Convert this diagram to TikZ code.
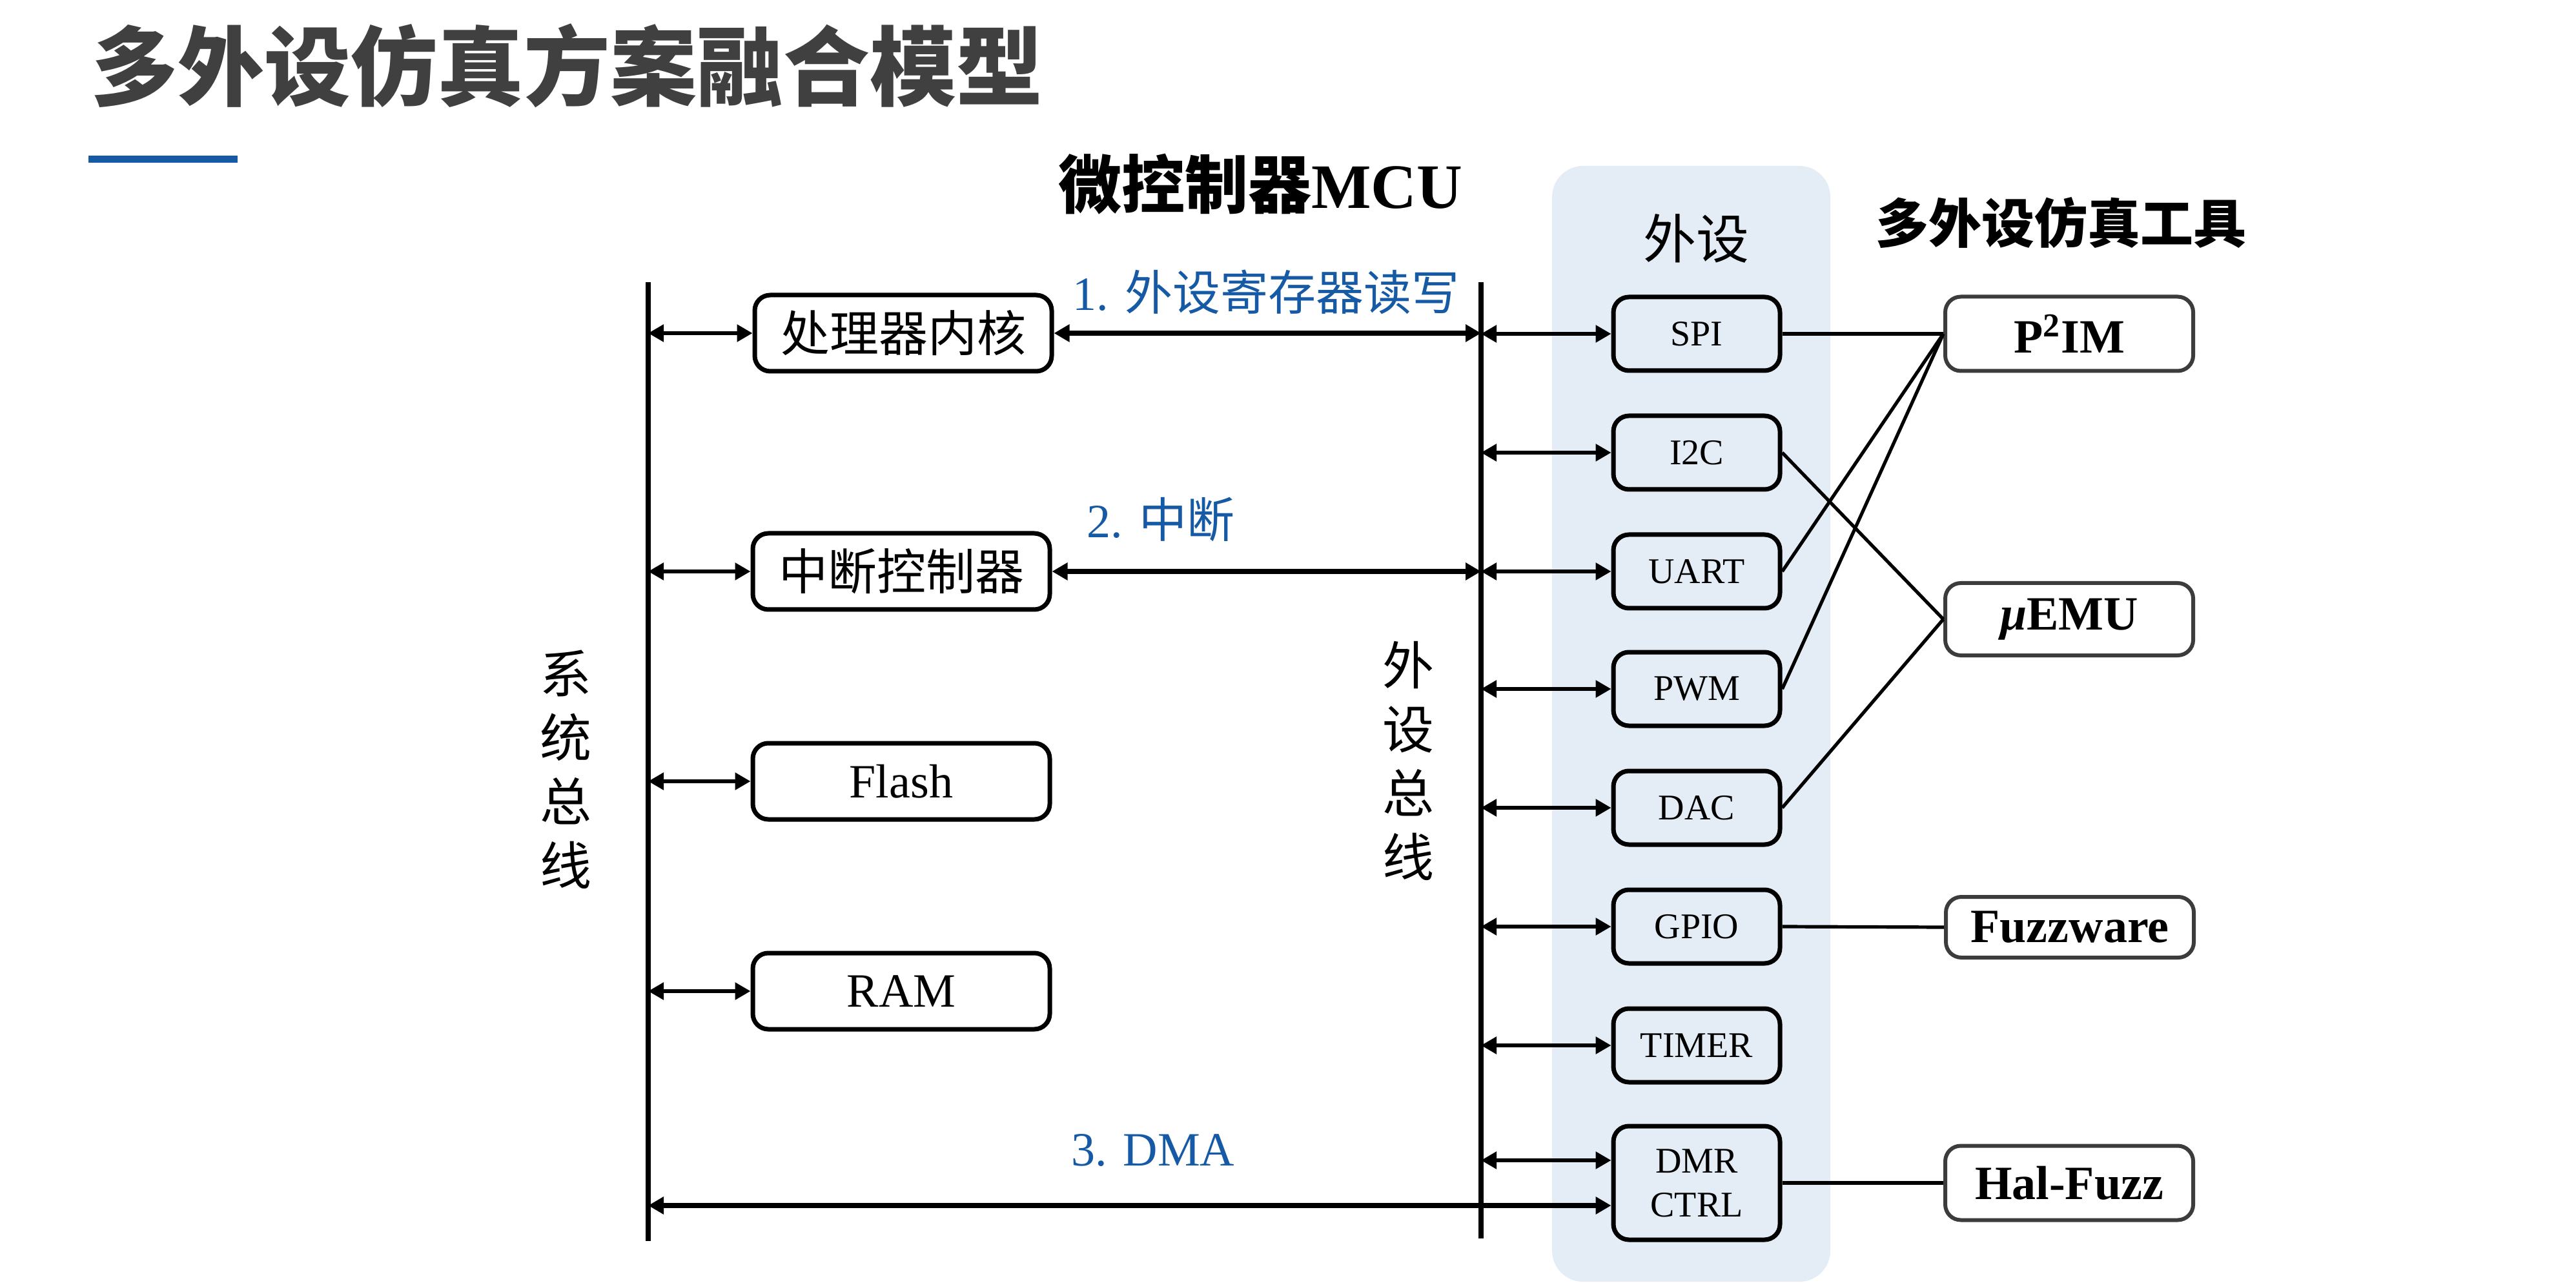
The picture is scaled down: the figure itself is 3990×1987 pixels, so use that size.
\documentclass[tikz,border=0pt]{standalone}
\usepackage{fontspec}
\setmainfont{Liberation Serif}
\newfontfamily\cjk{Noto Sans CJK SC}
\usetikzlibrary{arrows.meta}
\definecolor{accent}{RGB}{22,90,166}
\definecolor{titlegray}{RGB}{64,64,64}
\definecolor{panelbg}{RGB}{228,236,245}
\definecolor{toolborder}{RGB}{60,60,60}
\tikzset{
  lbox/.style={draw=black, line width=1.75pt, rounded corners=6pt, minimum width=115pt, minimum height=29.5pt, inner sep=0pt, font=\cjk\fontsize{19pt}{22pt}\selectfont},
  lboxlat/.style={lbox, font=\rmfamily\fontsize{18.5pt}{22pt}\selectfont},
  pbox/.style={draw=black, line width=1.75pt, rounded corners=6pt, minimum width=64.5pt, minimum height=28.5pt, inner sep=0pt, align=center, font=\rmfamily\fontsize{14pt}{17pt}\selectfont},
  tbox/.style={draw=toolborder, fill=white, line width=1.5pt, rounded corners=6pt, minimum width=96pt, minimum height=28.75pt, inner sep=0pt, font=\rmfamily\bfseries\fontsize{18.5pt}{22pt}\selectfont},
  arr/.style={line width=1.4pt, {Triangle[length=6pt,width=6.5pt]}-{Triangle[length=6pt,width=6.5pt]}},
  thickarr/.style={line width=2pt, {Triangle[length=6pt,width=6.5pt]}-{Triangle[length=6pt,width=6.5pt]}},
  bus/.style={line width=2.2pt},
  link/.style={line width=1.3pt},
  steplabel/.style={text=accent, inner sep=0pt, font=\rmfamily\fontsize{18.5pt}{22pt}\selectfont}
}
\begin{document}
\begin{tikzpicture}[x=0.25pt,y=-0.25pt]
\useasboundingbox (0,0) rectangle (3990,1987);
% title
\node[anchor=west, inner sep=0pt, text=titlegray, font=\cjk\bfseries\fontsize{33.5pt}{38pt}\selectfont] (title) at (141,102) {多外设仿真方案融合模型};
\fill[accent] (137,241) rectangle (368,252);
% panel
\fill[panelbg, rounded corners=12pt] (2404,257) rectangle (2835,1985);
% headings
\node[inner sep=0pt, font=\rmfamily\bfseries\fontsize{24.5pt}{28pt}\selectfont] (mcu) at (1952,285) {{\cjk 微控制器}MCU};
\node[inner sep=0pt, font=\cjk\bfseries\fontsize{20.5pt}{24pt}\selectfont] (toolshead) at (3192,345) {多外设仿真工具};
\node[inner sep=0pt, font=\cjk\fontsize{20.5pt}{24pt}\selectfont] (periphhead) at (2627,369) {外设};
% buses
\coordinate (sbtop) at (1004,437);
\coordinate (sbbot) at (1004,1922);
\coordinate (pbtop) at (2294,437);
\coordinate (pbbot) at (2294,1918);
\draw[bus] (sbtop) -- (sbbot);
\draw[bus] (pbtop) -- (pbbot);
\node[align=center, inner sep=0pt, font=\cjk\fontsize{20pt}{24.75pt}\selectfont] (sbl) at (876,1192) {系\\统\\总\\线};
\node[align=center, inner sep=0pt, font=\cjk\fontsize{20pt}{24.75pt}\selectfont] (pbl) at (2181,1178) {外\\设\\总\\线};
% MCU blocks
\node[lbox] (core) at (1399,516) {处理器内核};
\node[lbox] (irq) at (1396,885) {中断控制器};
\node[lboxlat] (flash) at (1396,1210) {Flash};
\node[lboxlat] (ram) at (1396,1535) {RAM};
% peripherals
\node[pbox] (spi) at (2628,517) {SPI};
\node[pbox] (i2c) at (2628,701) {I2C};
\node[pbox] (uart) at (2628,885) {UART};
\node[pbox] (pwm) at (2628,1067) {PWM};
\node[pbox] (dac) at (2628,1251) {DAC};
\node[pbox] (gpio) at (2628,1435) {GPIO};
\node[pbox] (timer) at (2628,1619) {TIMER};
\node[pbox, minimum height=44pt] (dmr) at (2628,1832) {DMR\\CTRL};
% tools
\node[tbox] (p2im) at (3205,517) {P\textsuperscript{2}IM};
\node[tbox, minimum height=28pt] (uemu) at (3205,959) {{\itshape μ}EMU};
\node[tbox, minimum height=23.5pt] (fuzz) at (3206,1436) {Fuzzware};
\node[tbox] (hal) at (3205,1832) {Hal-Fuzz};
% system bus arrows
\foreach \b in {core,irq,flash,ram} \draw[arr] (\b.west -| sbtop) -- (\b.west);
% MCU to peripheral bus
\draw[thickarr] (core.east) -- (core.east -| pbtop);
\draw[thickarr] (irq.east) -- (irq.east -| pbtop);
% peripheral bus arrows
\foreach \p in {spi,i2c,uart,pwm,dac,gpio,timer} \draw[arr] (\p.west -| pbtop) -- (\p.west);
\coordinate (dmrU) at ([yshift=8.75pt]dmr.west);
\coordinate (dmrD) at ([yshift=-8.75pt]dmr.west);
\draw[arr] (dmrU -| pbtop) -- (dmrU);
\draw[thickarr] (dmrD -| sbtop) -- (dmrD);
% step labels
\node[steplabel] (s1) at (1961,452) {1. {\cjk 外设寄存器读写}};
\node[steplabel] (s2) at (1798,804) {2. {\cjk 中断}};
\node[steplabel] (s3) at (1786,1782) {3. DMA};
% links to tools
\draw[link] (spi.east) -- (p2im.west);
\draw[link] (uart.east) -- (p2im.west);
\draw[link] (pwm.east) -- (p2im.west);
\draw[link] (i2c.east) -- (uemu.west);
\draw[link] (dac.east) -- (uemu.west);
\draw[link] (gpio.east) -- (fuzz.west);
\draw[link] (dmr.east) -- (hal.west);
\end{tikzpicture}
\end{document}
